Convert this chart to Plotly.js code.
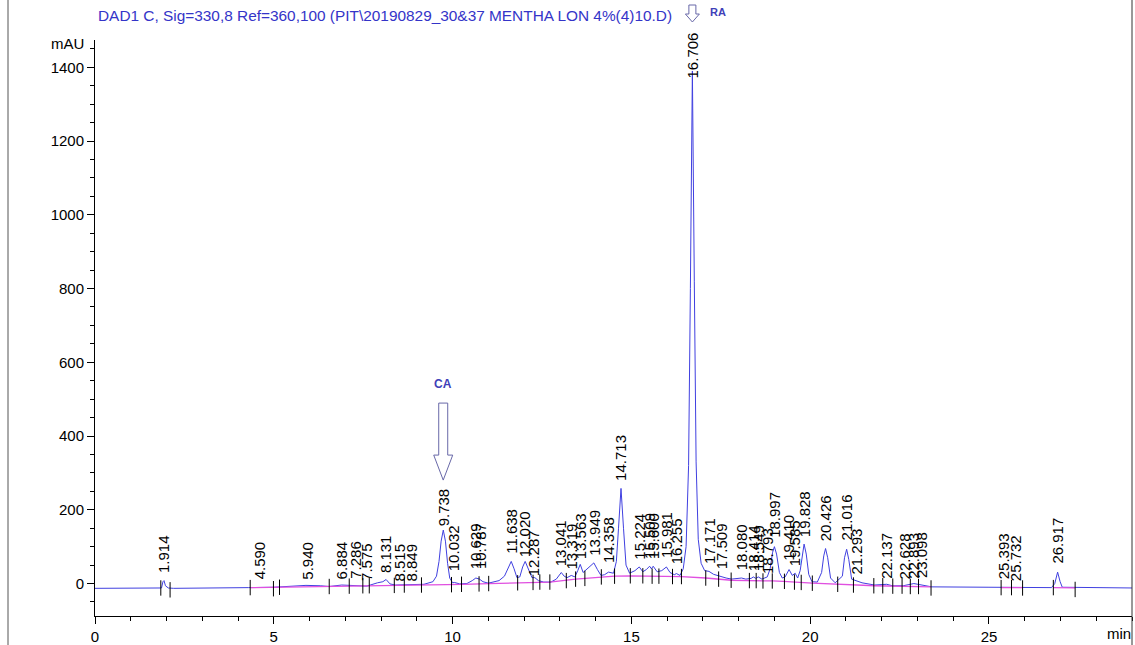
<!DOCTYPE html>
<html>
<head>
<meta charset="utf-8">
<script src="https://cdn.plot.ly/plotly-3.0.1.min.js"></script>
<style>html,body{margin:0;padding:0;background:#fff;}#chart{width:1135px;height:645px;}</style>
</head>
<body>
<div id="chart"></div>
<script>
// ---- chromatogram signal (time in min, signal in mAU)
const traceTime = [0,1.80,1.86,1.90,1.93,1.97,2.05,2.2,3.6,3.7,4.3,5.0,5.5,5.9,6.3,6.55,6.9,7.3,7.6,7.9,8.05,8.14,8.25,8.4,8.85,9.2,9.45,9.55,9.62,9.68,9.74,9.80,9.86,9.92,10.0,10.05,10.2,10.4,10.55,10.65,10.75,10.85,11.0,11.3,11.45,11.55,11.64,11.72,11.80,11.88,11.96,12.03,12.12,12.22,12.30,12.40,12.55,12.75,12.9,13.04,13.12,13.2,13.32,13.42,13.5,13.57,13.65,13.75,13.82,13.95,14.05,14.15,14.25,14.36,14.5,14.58,14.64,14.71,14.78,14.85,14.95,15.1,15.22,15.32,15.42,15.51,15.56,15.61,15.72,15.85,15.98,16.08,16.2,16.26,16.36,16.45,16.53,16.60,16.65,16.706,16.76,16.81,16.87,16.95,17.05,17.17,17.3,17.45,17.51,17.65,17.8,18.0,18.08,18.2,18.35,18.41,18.48,18.55,18.65,18.8,18.88,18.95,19.0,19.06,19.14,19.22,19.3,19.41,19.5,19.58,19.65,19.72,19.78,19.83,19.89,19.96,20.05,20.2,20.32,20.38,20.43,20.49,20.57,20.7,20.9,20.96,21.02,21.08,21.16,21.29,21.45,21.8,22.14,22.3,22.6,22.9,23.0,23.1,23.4,25.0,26.75,26.84,26.92,26.99,27.05,29];
const traceSignal = [-13,-13,-12,5,8,-6,-12,-13,-13,-11,-11,-10,-8,-5,-6,-8,-4,-6,-7,2,5,11,-1,-4,-2,-2,5,20,60,115,145,115,55,15,2,3,-1,0,8,15,12,5,1,8,20,40,60,40,16,18,45,60,40,16,16,8,4,4,12,30,20,16,22,18,35,52,30,38,45,56,38,22,24,31,28,60,150,258,150,50,28,35,45,32,38,47,40,47,32,35,45,30,24,27,22,40,100,320,800,1390,820,330,120,55,35,33,25,20,18,15,12,13,15,12,14,18,14,18,12,18,40,85,100,80,30,15,18,38,22,28,15,35,80,107,80,25,5,4,30,75,95,70,15,2,20,70,93,65,12,8,2,-4,-2,-6,-6,0,-2,-5,-9,-10,-11,0,31,5,-10,-12];

// ---- integration baseline (pink)
const baseTime  = [4.34,5.16,6.55,7.67,8.65,9.13,10.28,11.01,11.82,12.44,12.72,13.44,14.16,14.53,14.97,16.4,17.08,17.79,18.94,19.25,20.06,20.77,21.8,23.38,null,25.34,25.94,null,26.8,27.41];
const baseLevel = [-11,-10,-8,-6,-4,-4,-2,0,2,4,4,12,18,20,21,19,15,9,7,6,1,-2,-6,-9,null,-11,-11,null,-11,-12];

// ---- peak start/end tick marks
const markTime  = [1.84,2.10,4.34,4.99,5.16,6.55,7.11,7.49,7.67,8.37,8.65,9.13,9.97,10.25,10.74,11.01,11.82,12.25,12.44,12.72,13.18,13.44,13.70,14.16,14.53,14.97,15.32,15.58,15.77,16.15,16.40,17.08,17.44,17.79,18.30,18.49,18.68,18.94,19.28,19.56,19.75,20.06,20.77,21.21,21.78,22.03,22.31,22.57,22.80,23.03,23.38,25.34,25.63,25.94,26.80,27.41];
const markLevel = [-12,-17,-11,-14,-10,-8,-7,-6,-6,-5,-4,-4,-3,-2,-1,0,2,3,4,4,8,12,14,18,20,21,21,20,20,19,19,15,12,9,8,8,7,7,6,4,3,1,-2,-4,-6,-6,-7,-7,-8,-8,-12,-11,-11,-12,-11,-16];

// ---- peak labels (retention time, label base level in mAU)
const peakRT = [1.914,4.590,5.940,6.884,7.286,7.575,8.131,8.515,8.849,9.738,10.032,10.629,10.787,11.638,12.020,12.287,13.041,13.319,13.563,13.949,14.358,14.713,15.224,15.509,15.600,15.981,16.255,16.706,17.171,17.509,18.080,18.414,18.549,18.793,18.997,19.410,19.585,19.828,20.426,21.016,21.293,22.137,22.628,22.893,23.098,25.393,25.732,26.917];
const peakLabelLevel = [27,9,9,9,9,4,25,4,4,153,30,36,36,77,68,18,45,36,63,72,54,276,63,63,63,68,50,1368,50,36,32,32,32,23,122,59,45,123,113,113,23,9,9,9,12,9,4,50];

// ---- marked compounds
const markedNames = ["CA","RA"];
const markedRT = [9.738,16.706];
const markedApex = [145,1390];

// ---- texts
const titleText = "DAD1 C, Sig=330,8 Ref=360,100 (PIT\\20190829_30&37 MENTHA LON 4%(4)10.D)";
const yUnit = "mAU";
const xUnit = "min";

const W = 1135, H = 645;
const M = {l:95, r:3, t:40, b:29};
const PW = W - M.l - M.r, PH = H - M.t - M.b;
const px = v => (v - M.l) / PW;
const py = v => (H - M.b - v) / PH;
const FONT = "Liberation Sans, Arial, sans-serif";
const BLUE = "#3434c8";

const traces = [
  {x: traceTime, y: traceSignal, type: "scatter", mode: "lines",
   line: {color: "#4040e0", width: 1}, hoverinfo: "skip"},
  {x: baseTime, y: baseLevel, type: "scatter", mode: "lines", connectgaps: false,
   line: {color: "#e050e0", width: 1.3}, hoverinfo: "skip"},
  {x: markTime, y: markLevel, type: "scatter", mode: "markers",
   marker: {symbol: "line-ns", size: 11, color: "#000", line: {color: "#000", width: 1}}, hoverinfo: "skip"}
];

const annotations = [];
peakRT.forEach((t, i) => {
  annotations.push({x: t, y: peakLabelLevel[i], xref: "x", yref: "y", text: t.toFixed(3),
    showarrow: false, textangle: -90, xanchor: "center", yanchor: "bottom", borderpad: 0,
    font: {family: FONT, size: 15, color: "#000"}});
});
annotations.push({x: px(97), y: py(15), xref: "paper", yref: "paper", text: titleText, showarrow: false,
  xanchor: "left", yanchor: "middle", borderpad: 0, font: {family: FONT, size: 15.4, color: BLUE}});
annotations.push({x: px(85), y: py(44), xref: "paper", yref: "paper", text: yUnit, showarrow: false,
  xanchor: "right", yanchor: "middle", borderpad: 0, font: {family: FONT, size: 15, color: "#000"}});
annotations.push({x: px(1106), y: py(633), xref: "paper", yref: "paper", text: xUnit, showarrow: false,
  xanchor: "left", yanchor: "middle", borderpad: 0, font: {family: FONT, size: 15, color: "#000"}});
// CA label above its arrow
annotations.push({x: markedRT[0], y: py(384), xref: "x", yref: "paper", text: "<b>" + markedNames[0] + "</b>",
  showarrow: false, xanchor: "center", yanchor: "middle", borderpad: 0, font: {family: FONT, size: 12, color: "#4040b8"}});
// RA label to the right of its small arrow
annotations.push({x: markedRT[1], xshift: 26, y: py(12), xref: "x", yref: "paper", text: "<b>" + markedNames[1] + "</b>",
  showarrow: false, xanchor: "center", yanchor: "middle", borderpad: 0, font: {family: FONT, size: 11, color: "#4040b8"}});

const arrowLine = {color: "#6868a8", width: 1};
const shapes = [
  // CA open arrow (pixel offsets from the peak apex)
  {type: "path", xref: "x", yref: "y", xsizemode: "pixel", ysizemode: "pixel",
   xanchor: markedRT[0], yanchor: markedApex[0],
   path: "M -4.5,127 L 4.5,127 L 4.5,75 L 9.5,75 L 0,50 L -9.5,75 L -4.5,75 Z",
   line: arrowLine, fillcolor: "rgba(255,255,255,0)"},
  // RA open arrow (above the plot top)
  {type: "path", xref: "x", yref: "paper", xsizemode: "pixel", ysizemode: "pixel",
   xanchor: markedRT[1], yanchor: 1,
   path: "M -3.5,35 L 3.5,35 L 3.5,26 L 7,26 L 0,18 L -7,26 L -3.5,26 Z",
   line: arrowLine, fillcolor: "rgba(255,255,255,0)"},
  // page frame lines
  {type: "line", xref: "paper", yref: "paper", x0: px(8), x1: px(8), y0: py(H), y1: py(0),
   line: {color: "#555", width: 1}},
  {type: "line", xref: "paper", yref: "paper", x0: px(1132), x1: px(1132), y0: py(H), y1: py(0),
   line: {color: "#333", width: 1}}
];

const layout = {
  width: W, height: H, margin: {l: M.l, r: M.r, t: M.t, b: M.b, pad: 0},
  paper_bgcolor: "#fff", plot_bgcolor: "#fff", showlegend: false,
  font: {family: FONT, size: 15, color: "#000"},
  xaxis: {range: [0, 29], dtick: 5, tick0: 0, ticks: "outside", ticklen: 7, tickcolor: "#000",
    showline: true, linecolor: "#000", linewidth: 1, showgrid: false, zeroline: false,
    tickfont: {family: FONT, size: 15, color: "#000"},
    minor: {dtick: 1, ticks: "outside", ticklen: 4, tickcolor: "#000", showgrid: false}},
  yaxis: {range: [-88, 1474], dtick: 200, tick0: 0, ticks: "outside", ticklen: 7, tickcolor: "#000",
    showline: true, linecolor: "#000", linewidth: 1, showgrid: false, zeroline: false,
    tickfont: {family: FONT, size: 15, color: "#000"},
    minor: {dtick: 50, ticks: "outside", ticklen: 4, tickcolor: "#000", showgrid: false}},
  annotations: annotations,
  shapes: shapes
};

Plotly.newPlot("chart", traces, layout, {displayModeBar: false, staticPlot: true});
</script>
</body>
</html>
